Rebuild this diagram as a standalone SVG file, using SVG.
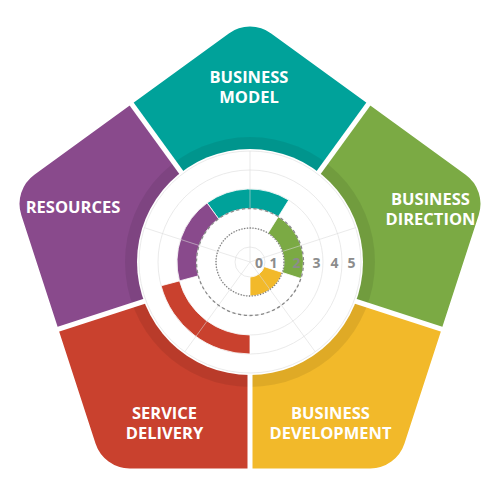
<svg xmlns="http://www.w3.org/2000/svg" width="500" height="500" viewBox="0 0 500 500">
<style>
.lbl{font-family:"Open Sans","Liberation Sans",sans-serif;font-weight:700;font-size:16.5px;fill:#fff;text-anchor:middle}
.num{font-family:"Open Sans","Liberation Sans",sans-serif;font-weight:700;font-size:14px;fill:#8c8c8c;text-anchor:middle}
.grid{fill:none;stroke:#e4e4e4;stroke-width:0.8}
.spoke{stroke:#d9d9d9;stroke-width:0.8;stroke-opacity:0.7}
.div{stroke:#fff;stroke-width:5}
.bar{stroke:#fff;stroke-width:0.8}
</style>
<defs>
<path id="pent" d="M228.84,33.38 A36,36 0 0 1 271.16,33.38 L465.64,174.72 A36,36 0 0 1 478.72,214.97 L404.48,443.53 A36,36 0 0 1 370.25,468.4 L129.75,468.4 A36,36 0 0 1 95.52,443.53 L21.28,214.97 A36,36 0 0 1 34.36,174.72 Z"/>
<clipPath id="c-teal"><polygon points="250,267 14.9,-56.6 485.1,-56.6"/></clipPath>
<clipPath id="c-green"><polygon points="250,267 485.1,-56.6 630.4,390.6"/></clipPath>
<clipPath id="c-yellow"><polygon points="250,267 630.4,390.6 250,667"/></clipPath>
<clipPath id="c-red"><polygon points="250,267 250,667 -130.4,390.6"/></clipPath>
<clipPath id="c-purple"><polygon points="250,267 -130.4,390.6 14.9,-56.6"/></clipPath>
</defs>

<g id="business-model">
<use href="#pent" fill="#00A29A" clip-path="url(#c-teal)"/>
<text class="lbl" x="249" y="83">BUSINESS</text>
<text class="lbl" x="249" y="103">MODEL</text>
</g>
<g id="business-direction">
<use href="#pent" fill="#7BAA44" clip-path="url(#c-green)"/>
<text class="lbl" x="430.5" y="205">BUSINESS</text>
<text class="lbl" x="430.5" y="225">DIRECTION</text>
</g>
<g id="business-development">
<use href="#pent" fill="#F2B92A" clip-path="url(#c-yellow)"/>
<text class="lbl" x="330.5" y="419">BUSINESS</text>
<text class="lbl" x="330.5" y="439">DEVELOPMENT</text>
</g>
<g id="service-delivery">
<use href="#pent" fill="#C9412E" clip-path="url(#c-red)"/>
<text class="lbl" x="164.5" y="419">SERVICE</text>
<text class="lbl" x="164.5" y="439">DELIVERY</text>
</g>
<g id="resources">
<use href="#pent" fill="#894A8C" clip-path="url(#c-purple)"/>
<text class="lbl" x="73" y="212.5">RESOURCES</text>
</g>

<g id="shade-ring">
<circle cx="250" cy="262" r="125" fill="#000" fill-opacity="0.08"/>
</g>

<g id="connectors">
<line class="div" x1="250" y1="267" x2="485.1" y2="-56.6"/>
<line class="div" x1="250" y1="267" x2="630.4" y2="390.6"/>
<line class="div" x1="250" y1="267" x2="250" y2="667"/>
<line class="div" x1="250" y1="267" x2="-130.4" y2="390.6"/>
<line class="div" x1="250" y1="267" x2="14.9" y2="-56.6"/>
</g>

<g id="chart">
<circle cx="250" cy="262" r="113" fill="#fff"/>
<circle class="grid" cx="250" cy="262" r="15"/>
<circle class="grid" cx="250" cy="262" r="34"/>
<circle class="grid" cx="250" cy="262" r="53.5"/>
<circle class="grid" cx="250" cy="262" r="73"/>
<circle class="grid" cx="250" cy="262" r="92"/>
<circle class="grid" cx="250" cy="262" r="111"/>
<path class="bar" fill="#F2B92A" d="M282.34,272.51 A34,34 0 0 1 250,296 L250,277 A15,15 0 0 0 264.27,266.64 Z"/>
<path class="bar" fill="#7BAA44" d="M278.35,216.63 A53.5,53.5 0 0 1 300.88,278.53 L282.34,272.51 A34,34 0 0 0 268.02,233.17 Z"/>
<path class="bar" fill="#00A29A" d="M207.09,202.94 A73,73 0 0 1 288.68,200.10 L278.35,216.63 A53.5,53.5 0 0 0 218.55,218.72 Z"/>
<path class="bar" fill="#894A8C" d="M179.49,280.89 A73,73 0 0 1 207.09,202.94 L218.55,218.72 A53.5,53.5 0 0 0 198.32,275.85 Z"/>
<path class="bar" fill="#C9412E" d="M250,354 A92,92 0 0 1 161.14,285.81 L179.49,280.89 A73,73 0 0 0 250,335 Z"/>
<line class="spoke" x1="250" y1="262" x2="250" y2="151"/>
<line class="spoke" x1="250" y1="262" x2="355.57" y2="227.70"/>
<line class="spoke" x1="250" y1="262" x2="315.25" y2="351.80"/>
<line class="spoke" x1="250" y1="262" x2="184.75" y2="351.80"/>
<line class="spoke" x1="250" y1="262" x2="144.43" y2="227.70"/>
<circle cx="250" cy="262" r="34" fill="none" stroke="#7a7a7a" stroke-width="1.3" stroke-dasharray="1.2 1.6"/>
<circle cx="250" cy="262" r="53.5" fill="none" stroke="#888" stroke-width="1.3" stroke-dasharray="3.2 2.6"/>
<text class="num" x="259" y="268">0</text>
<text class="num" x="273.5" y="268">1</text>
<text class="num" x="296.5" y="268">2</text>
<text class="num" x="316.5" y="268">3</text>
<text class="num" x="334.5" y="268">4</text>
<text class="num" x="351.5" y="268">5</text>
</g>
</svg>
